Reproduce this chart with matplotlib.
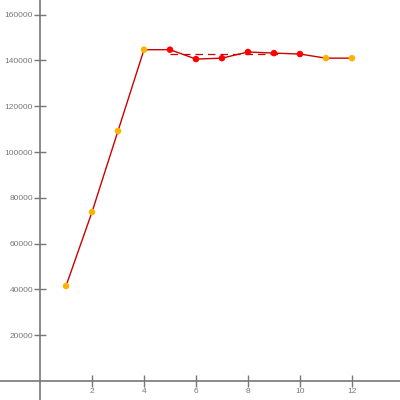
import numpy as np
import matplotlib.pyplot as plt

x = [1, 2, 3, 4, 5, 6, 7, 8, 9, 10, 11, 12]
y = [41500, 73800, 109200, 144700, 144700, 140600, 141000, 143700, 143200, 142800, 141000, 141000]
highlight = [False, False, False, False, True, True, True, True, True, True, False, False]
trend_x = [5, 9.2]
trend_y = [142700, 142700]

xticks = [2, 4, 6, 8, 10, 12]
yticks = [20000, 40000, 60000, 80000, 100000, 120000, 140000, 160000]

plt.rcParams['font.family'] = ['Liberation Sans', 'DejaVu Sans']

fig = plt.figure(figsize=(4, 4), dpi=100)
ax = fig.add_axes([0, 0, 1, 1])
ax.set_xlim(-1.54, 13.85)
ax.set_ylim(-8300, 166400)

for s in ['top', 'right']:
    ax.spines[s].set_visible(False)
for s in ['left', 'bottom']:
    ax.spines[s].set_position(('data', 0))
    ax.spines[s].set_color('#777777')
    ax.spines[s].set_linewidth(1.2)

ax.plot(trend_x, trend_y, color='#cc0000', lw=0.9, ls=(0, (6, 4)), zorder=2)
ax.plot(x, y, color='#cc0000', lw=1, zorder=3)
cols = ['#ff0000' if h else '#ffb300' for h in highlight]
ax.scatter(x, y, c=cols, s=22, marker='o', zorder=4, linewidths=0)

ax.set_xticks(xticks)
ax.set_yticks(yticks)
ax.set_xticklabels([str(t) for t in xticks])
ax.set_yticklabels([str(t) for t in yticks])
ax.tick_params(direction='inout', length=8, width=1, color='#777777',
               labelcolor='#777777', labelsize=6)
ax.tick_params(axis='y', pad=1)
ax.tick_params(axis='x', pad=1)

fig.savefig('out.png', dpi=100)
